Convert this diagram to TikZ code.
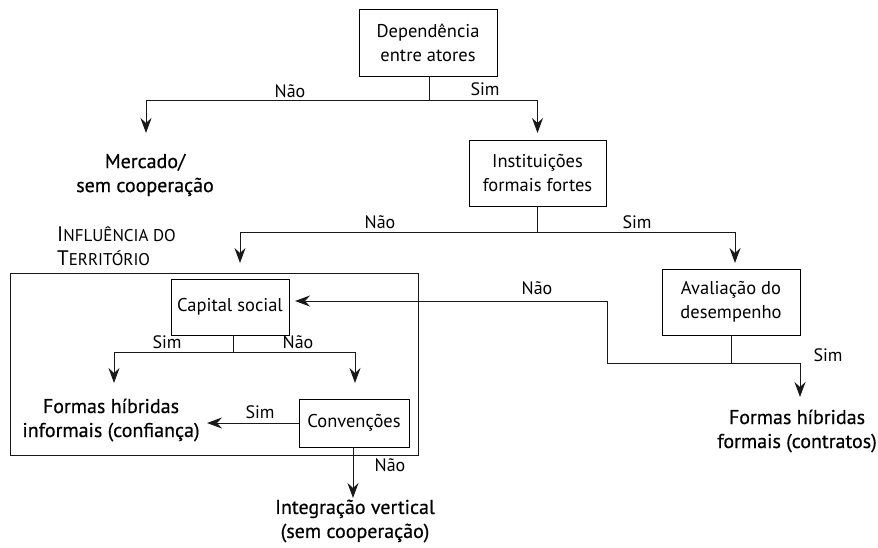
\documentclass[tikz,border=0pt]{standalone}
\usepackage{fontspec}
\setmainfont{PT Sans}
\newfontfamily\outfont{PT Sans}[BoldFont={PT Sans},BoldFeatures={FakeBold=0.5}]
\usetikzlibrary{arrows.meta}
\begin{document}
\begin{tikzpicture}[x=1pt,y=-1pt,
  every node/.style={font=\fontsize{18.5}{24}\selectfont},
  box/.style={draw, line width=0.9pt, align=center, inner sep=0pt},
  outc/.style={align=center, inner sep=0pt, font=\fontsize{20}{24}\selectfont\outfont\bfseries},
  lbl/.style={inner sep=0pt, font=\fontsize{18}{20}\selectfont},
  ln/.style={line width=0.9pt, draw=black!90},
  arr/.style={ln, -{Stealth[length=15pt,width=11pt,inset=5pt]}}]
\useasboundingbox (0,0) rectangle (878,547);
% boxes
\node[box, minimum width=138pt, minimum height=67pt] (dep) at (428,42.5) {Dependência\\entre atores};
\node[box, minimum width=137pt, minimum height=66pt] (ins) at (537.5,173) {Instituições\\formais fortes};
\node[box, minimum width=138pt, minimum height=66pt] (ava) at (731,302) {Avaliação do\\desempenho};
\node[box, minimum width=118pt, minimum height=56pt] (cap) at (230,307) {Capital social};
\node[box, minimum width=110pt, minimum height=48pt] (conv) at (354,423) {Convenções};
\draw[ln] (10,273) rectangle (418,455);
\node[anchor=west, align=left, inner sep=0pt, font=\fontsize{21}{24}\selectfont] (terr) at (57,246)
  {I{\fontsize{17}{24}\selectfont NFLUÊNCIA DO}\\T{\fontsize{17}{24}\selectfont ERRITÓRIO}};
% outcomes
\node[outc] (merc) at (145,175) {Mercado/\\sem cooperação};
\node[outc] (finf) at (111,420) {Formas híbridas\\informais (confiança)};
\node[outc] (fform) at (797,431) {Formas híbridas\\formais (contratos)};
\node[outc] (integ) at (355,521) {Integração vertical\\(sem cooperação)};
% junctions and tips
\coordinate (j1) at (429,100);
\coordinate (t1) at (146,133);
\coordinate (t2) at (537.5,133);
\coordinate (j2) at (537.5,232);
\coordinate (t3) at (240,263);
\coordinate (t4) at (735,263);
\coordinate (j3) at (731,363);
\coordinate (k3) at (607,301);
\coordinate (t5) at (800,397);
\coordinate (t6) at (295,301);
\coordinate (j4) at (233,352);
\coordinate (t7) at (114,383);
\coordinate (t8) at (355,383);
\coordinate (t9) at (207,423);
\coordinate (t10) at (353,498);
% connectors
\draw[ln] (dep.south -| j1) -- (j1);
\draw[arr] (j1) -| (t1);
\draw[arr] (j1) -| (t2);
\draw[ln] (ins.south) -- (j2);
\draw[arr] (j2) -| (t3);
\draw[arr] (j2) -| (t4);
\draw[ln] (ava.south) -- (j3);
\draw[arr] (j3) -| (t5);
\draw[arr] (j3) -| (k3) -- (t6);
\draw[ln] (cap.south -| j4) -- (j4);
\draw[arr] (j4) -| (t7);
\draw[arr] (j4) -| (t8);
\draw[arr] (conv.west) -- (t9);
\draw[arr] (conv.south -| t10) -- (t10);
% labels
\node[lbl] (l1) at (290,91) {Não};
\node[lbl] (l2) at (485,89) {Sim};
\node[lbl] (l3) at (380,222) {Não};
\node[lbl] (l4) at (637,222) {Sim};
\node[lbl] (l5) at (537,288) {Não};
\node[lbl] (l6) at (828,355) {Sim};
\node[lbl] (l7) at (167,342) {Sim};
\node[lbl] (l8) at (298,342) {Não};
\node[lbl] (l9) at (260,412) {Sim};
\node[lbl] (l10) at (390,465) {Não};
\end{tikzpicture}
\end{document}
